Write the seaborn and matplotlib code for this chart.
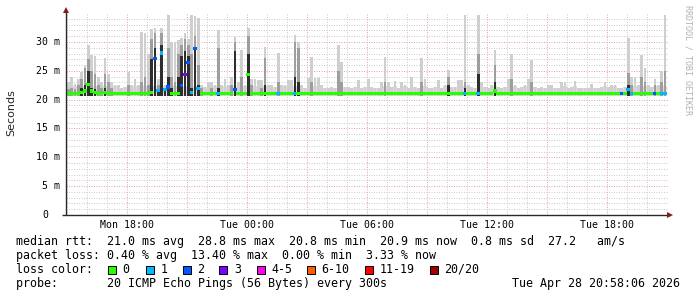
import numpy as np
import pandas as pd
import matplotlib
matplotlib.use("Agg")
import matplotlib.pyplot as plt
import matplotlib.transforms as mtransforms
from matplotlib.patches import Rectangle
import seaborn as sns

# ---------------- data (10-minute bins, Mon 15:00 -> Tue 21:00) ----------------
bin_start_hour = 15.0          # hours since Mon 00:00
bin_hours = 1.0 / 6.0

smoke_max = [
    23.0, 24.0, 22.8, 23.5, 24.8, 26.0, 29.5, 27.7, 27.5, 24.0,
    23.0, 27.2, 24.5, 23.0, 22.5, 22.5, 22.0, 22.2, 24.8, 22.5,
    23.5, 22.5, 31.8, 31.5, 28.0, 32.3, 32.4, 23.5, 32.4, 22.5,
    34.7, 30.0, 30.0, 30.3, 30.7, 31.5, 30.5, 34.7, 34.5, 34.1,
    22.5, 22.2, 23.0, 23.0, 22.5, 32.0, 22.5, 23.5, 22.5, 24.0,
    30.8, 23.0, 28.6, 22.5, 32.4, 23.6, 23.6, 23.4, 23.4, 29.1,
    22.5, 22.5, 22.2, 28.1, 22.5, 22.5, 23.4, 23.4, 31.2, 30.0,
    22.5, 22.0, 23.8, 27.4, 23.8, 23.8, 22.5, 22.0, 22.0, 22.2,
    22.0, 29.5, 26.5, 22.2, 22.2, 22.0, 22.2, 23.4, 22.0, 22.2,
    23.6, 22.2, 22.0, 22.0, 23.0, 27.4, 23.0, 22.2, 23.3, 22.0,
    23.0, 22.5, 22.0, 24.0, 22.2, 22.0, 27.2, 23.5, 22.0, 22.0,
    22.2, 23.4, 22.0, 22.5, 25.1, 22.2, 22.2, 23.4, 23.4, 34.7,
    22.5, 22.2, 22.0, 34.7, 23.0, 22.2, 22.0, 22.5, 28.6, 22.2,
    22.0, 22.2, 23.6, 28.0, 22.5, 22.0, 22.2, 22.5, 23.6, 26.9,
    22.2, 22.0, 22.2, 22.0, 22.5, 22.5, 22.0, 22.0, 23.0, 23.0,
    22.0, 22.2, 23.3, 22.0, 22.0, 22.0, 22.0, 22.7, 22.0, 22.0,
    22.2, 23.0, 22.2, 22.5, 22.5, 22.0, 22.0, 22.2, 30.7, 24.0,
    24.0, 22.5, 27.7, 25.5, 22.5, 22.2, 23.6, 22.5, 25.0, 34.7,
]

smoke_mid = [
    21.8, 22.0, 21.8, 22.5, 23.5, 25.5, 27.0, 25.0, 24.5, 22.5,
    22.0, 24.5, 23.0, 22.0, 0, 0, 0, 0, 22.5, 0,
    0, 0, 23.0, 24.0, 22.5, 30.5, 31.5, 22.5, 31.5, 22.0,
    29.0, 24.0, 23.0, 28.0, 29.5, 30.5, 29.5, 28.0, 31.0, 26.0,
    22.0, 0, 0, 22.0, 0, 29.0, 0, 0, 0, 22.5,
    30.0, 0, 24.0, 0, 31.0, 22.5, 0, 0, 22.0, 27.2,
    0, 0, 0, 23.0, 0, 0, 0, 0, 30.0, 29.0,
    0, 0, 0, 23.0, 0, 0, 0, 0, 0, 0,
    0, 25.0, 23.0, 0, 0, 0, 0, 0, 0, 0,
    0, 0, 0, 0, 0, 23.0, 0, 0, 0, 0,
    0, 0, 0, 0, 0, 0, 23.0, 0, 0, 0,
    0, 0, 0, 0, 24.0, 0, 0, 0, 0, 23.0,
    0, 0, 0, 28.0, 0, 0, 0, 0, 26.0, 0,
    0, 0, 0, 23.6, 0, 0, 0, 0, 0, 23.0,
    0, 0, 0, 0, 0, 0, 0, 0, 0, 0,
    0, 0, 0, 0, 0, 0, 0, 0, 0, 0,
    0, 0, 0, 0, 0, 0, 0, 0, 24.6, 22.5,
    0, 0, 24.0, 23.0, 0, 0, 22.5, 0, 23.0, 25.0,
]

smoke_dark = [
    0, 0, 0, 0, 22.0, 22.5, 25.0, 22.0, 21.8, 0,
    0, 22.0, 0, 0, 0, 0, 0, 0, 0, 0,
    0, 0, 0, 0, 0, 27.0, 29.0, 21.8, 29.5, 21.5,
    24.0, 22.0, 0, 24.0, 27.5, 28.5, 27.5, 22.0, 29.2, 22.5,
    0, 0, 0, 0, 0, 22.0, 0, 0, 0, 0,
    28.5, 0, 0, 0, 28.0, 0, 0, 0, 0, 22.5,
    0, 0, 0, 0, 0, 0, 0, 0, 24.0, 23.0,
    0, 0, 0, 0, 0, 0, 0, 0, 0, 0,
    0, 0, 0, 0, 0, 0, 0, 0, 0, 0,
    0, 0, 0, 0, 0, 0, 0, 0, 0, 0,
    0, 0, 0, 0, 0, 0, 0, 0, 0, 0,
    0, 0, 0, 0, 22.5, 0, 0, 0, 0, 22.0,
    0, 0, 0, 24.5, 0, 0, 0, 0, 23.0, 0,
    0, 0, 0, 0, 0, 0, 0, 0, 0, 0,
    0, 0, 0, 0, 0, 0, 0, 0, 0, 0,
    0, 0, 0, 0, 0, 0, 0, 0, 0, 0,
    0, 0, 0, 0, 0, 0, 0, 0, 22.5, 0,
    0, 0, 0, 0, 0, 0, 0, 0, 0, 0,
]

median_rtt = [
    21.0, 21.0, 21.0, 21.0, 21.3, 21.5, 22.6, 21.5, 21.3, 21.0,
    21.0, 21.2, 21.0, 21.0, 21.0, 21.0, 21.0, 21.0, 21.0, 21.0,
    21.0, 21.0, 21.0, 21.0, 21.0, 21.3, 27.2, 21.6, 28.1, 21.7,
    22.2, 21.0, 21.0, 21.0, 22.4, 24.4, 26.5, 21.3, 28.9, 21.9,
    21.0, 21.0, 21.0, 21.0, 21.0, 21.0, 21.0, 21.0, 21.0, 21.0,
    21.7, 21.0, 21.0, 21.0, 24.3, 21.0, 21.0, 21.0, 21.0, 21.0,
    21.0, 21.0, 21.0, 21.0, 21.0, 21.0, 21.0, 21.0, 21.0, 21.0,
    21.0, 21.0, 21.0, 21.0, 21.0, 21.0, 21.0, 21.0, 21.0, 21.0,
    21.0, 21.0, 21.0, 21.0, 21.0, 21.0, 21.0, 21.0, 21.0, 21.0,
    21.0, 21.0, 21.0, 21.0, 21.0, 21.0, 21.0, 21.0, 21.0, 21.0,
    21.0, 21.0, 21.0, 21.0, 21.0, 21.0, 21.0, 21.0, 21.0, 21.0,
    21.0, 21.0, 21.0, 21.0, 21.0, 21.0, 21.0, 21.0, 21.0, 21.0,
    21.0, 21.0, 21.0, 21.0, 21.0, 21.0, 21.0, 21.0, 21.5, 21.0,
    21.0, 21.0, 21.0, 21.0, 21.0, 21.0, 21.0, 21.0, 21.0, 21.0,
    21.0, 21.0, 21.0, 21.0, 21.0, 21.0, 21.0, 21.0, 21.0, 21.0,
    21.0, 21.0, 21.0, 21.0, 21.0, 21.0, 21.0, 21.0, 21.0, 21.0,
    21.0, 21.0, 21.0, 21.0, 21.0, 21.0, 21.0, 21.0, 21.8, 21.0,
    21.0, 21.0, 21.0, 21.0, 21.0, 21.0, 21.0, 21.0, 21.0, 21.0,
]

loss_count = [
    0, 0, 0, 0, 0, 0, 0, 0, 0, 0,
    0, 0, 0, 0, 0, 0, 0, 0, 0, 0,
    0, 0, 0, 0, 0, 0, 2, 1, 1, 1,
    2, 0, 0, 0, 2, 3, 2, 1, 2, 1,
    0, 0, 0, 0, 0, 1, 0, 0, 0, 0,
    2, 0, 0, 0, 0, 0, 0, 0, 0, 0,
    0, 0, 0, 1, 0, 0, 0, 0, 1, 0,
    0, 0, 0, 0, 0, 0, 0, 0, 0, 0,
    0, 0, 0, 0, 0, 0, 0, 0, 0, 0,
    0, 0, 0, 0, 0, 0, 0, 0, 0, 0,
    0, 0, 0, 0, 0, 0, 0, 0, 0, 0,
    0, 0, 0, 0, 0, 0, 0, 0, 0, 1,
    0, 0, 0, 1, 0, 0, 0, 0, 0, 0,
    0, 0, 0, 0, 0, 0, 0, 0, 0, 0,
    0, 0, 0, 0, 0, 0, 0, 0, 0, 0,
    0, 0, 0, 0, 0, 0, 0, 0, 0, 0,
    0, 0, 0, 0, 0, 0, 2, 0, 1, 1,
    0, 0, 0, 0, 0, 0, 2, 0, 1, 1,
]

loss_labels = ["0", "1", "2", "3", "4-5", "6-10", "11-19", "20/20"]
loss_colors = ["#26ff00", "#00b8ff", "#0059ff", "#7e00ff",
               "#ff00ea", "#ff5e00", "#ff0000", "#a10000"]

x_tick_hours = [18, 24, 30, 36, 42]
x_tick_labels = ["Mon 18:00", "Tue 00:00", "Tue 06:00", "Tue 12:00", "Tue 18:00"]
y_tick_values = [0, 5, 10, 15, 20, 25, 30]
y_tick_labels = ["0", "5 m", "10 m", "15 m", "20 m", "25 m", "30 m"]

legend_lines = [
    "median rtt:  21.0 ms avg  28.8 ms max  20.8 ms min  20.9 ms now  0.8 ms sd  27.2   am/s",
    "packet loss: 0.40 % avg  13.40 % max  0.00 % min  3.33 % now",
    "loss color:",
    "probe:       20 ICMP Echo Pings (56 Bytes) every 300s",
]
timestamp = "Tue Apr 28 20:58:06 2026"

# ---------------- figure ----------------
sns.set_style("white")
plt.rcParams["font.family"] = ["DejaVu Sans Mono", "DejaVu Sans"]

W, H = 697, 297
fig = plt.figure(figsize=(W / 100, H / 100), dpi=100)
fig.patch.set_facecolor("white")

X0, X1, YB = 66, 668, 215
PX_PER_M = 5.767
YTOP_VAL = 34.8
YT = YB - YTOP_VAL * PX_PER_M
ax = fig.add_axes([X0 / W, 1 - YB / H, (X1 - X0) / W, (YB - YT) / H])
x_start = 14.97
ax.set_xlim(x_start, x_start + (X1 - X0) / 20.0)
ax.set_ylim(0, YTOP_VAL)
ax.set_facecolor("white")

n = len(smoke_max)
edges = bin_start_hour + np.arange(n + 1) * bin_hours
centers = bin_start_hour + (np.arange(n) + 0.5) * bin_hours
base = 20.7
bg_cap = 22.3

# continuous light background smoke (lower part of each bin)
bg = np.minimum(np.array(smoke_max, dtype=float), bg_cap)
ax.fill_between(edges, base, np.append(bg, bg[-1]), step="post",
                color="#dcdcdc", lw=0, zorder=2)

# spikes: narrower columns per bin
spike_w = 0.13
def spikes(vals, color, z):
    v = np.array(vals, dtype=float)
    h = np.where(v > base, v - base, 0.0)
    ax.bar(centers, h, bottom=base, width=spike_w, color=color, lw=0, zorder=z)

spikes(smoke_max, "#cfcfcf", 2.05)
spikes(smoke_mid, "#9e9e9e", 2.1)
spikes(smoke_dark, "#2e2e2e", 2.2)

# median, coloured by loss
def loss_cat(c):
    if c <= 3:
        return loss_labels[c]
    if c <= 5:
        return "4-5"
    if c <= 10:
        return "6-10"
    if c <= 19:
        return "11-19"
    return "20/20"

df = pd.DataFrame({"t": centers, "median": median_rtt,
                   "loss": [loss_cat(c) for c in loss_count]})
pal = dict(zip(loss_labels, loss_colors))
rect_marker = [(-0.5, -0.45), (0.5, -0.45), (0.5, 0.45), (-0.5, 0.45), (-0.5, -0.45)]
sns.scatterplot(data=df, x="t", y="median", hue="loss", palette=pal,
                marker=rect_marker, s=6.6, linewidth=0, legend=False,
                ax=ax, zorder=3)

# grid
ax.set_axisbelow(True)
ax.set_xticks(np.arange(18, 43, 3))
ax.set_xticks(np.arange(15, 45, 1), minor=True)
ax.set_yticks(np.arange(0, 35, 5))
ax.set_yticks(np.arange(0, 35, 1), minor=True)
ax.grid(which="minor", color="#cdcdcd", linestyle=(0, (1, 1.5)), linewidth=0.72)
ax.grid(which="major", color="#e8a3a3", linestyle=(0, (1, 1.5)), linewidth=0.72)
ax.set_xticklabels([])
ax.set_yticklabels([])
ax.tick_params(axis="x", which="both", length=0)
ax.tick_params(axis="y", which="major", length=3, width=0.7, color="#777777", direction="out")
ax.tick_params(axis="y", which="minor", length=0)
ax.set_xlabel("")
ax.set_ylabel("")

for s in ["top", "right", "left", "bottom"]:
    ax.spines[s].set_visible(False)

axis_col = "#2a2a2a"
arrow_col = "#7f1f1f"
ax.plot([x_start, x_start], [0, YTOP_VAL + 0.6], color=axis_col, lw=1.0,
        clip_on=False, zorder=5, solid_capstyle="butt")
ax.plot([x_start - 0.2, x_start + (670 - X0) / 20.0], [0, 0], color=axis_col, lw=1.0,
        clip_on=False, zorder=5, solid_capstyle="butt")
ax.plot([x_start], [YTOP_VAL + 0.7], marker="^", ms=4.2, color=arrow_col,
        clip_on=False, zorder=6, mew=0)
ax.plot([x_start + (670 - X0) / 20.0], [0], marker=">", ms=4.2, color=arrow_col,
        clip_on=False, zorder=6, mew=0)

# tick labels
tr_y = mtransforms.blended_transform_factory(fig.transFigure, ax.transData)
for v, lab in zip(y_tick_values, y_tick_labels):
    xr = 60 if v > 0 else 48
    ax.text(xr / W, v, lab, transform=tr_y, ha="right", va="center",
            fontsize=7.1, family="DejaVu Sans Mono", color="black")

tr_x = mtransforms.blended_transform_factory(ax.transData, fig.transFigure)
for h, lab in zip(x_tick_hours, x_tick_labels):
    ax.text(h, 1 - 224.5 / H, lab, transform=tr_x, ha="center", va="center",
            fontsize=7.1, family="DejaVu Sans Mono", color="black")

fig.text(11 / W, 1 - 113 / H, "Seconds", rotation=90, ha="center", va="center",
         fontsize=8, family="DejaVu Sans")
fig.text(688 / W, 1 - 60 / H, "RRDTOOL / TOBI OETIKER", rotation=270,
         ha="center", va="center", fontsize=6, color="#b0b0b0",
         family="DejaVu Sans Mono")

# legend block
mono = dict(fontsize=8.35, family="DejaVu Sans Mono", color="black")
baselines = [245, 259, 273, 287]
for line, yb in zip(legend_lines, baselines):
    fig.text(16 / W, 1 - yb / H, line, ha="left", va="baseline", **mono)
fig.text(680 / W, 1 - 287 / H, timestamp, ha="right", va="baseline", **mono)

sq_x = [108, 145.7, 182.7, 219.3, 256.7, 306.7, 365, 430]
for xs, lab, col in zip(sq_x, loss_labels, loss_colors):
    fig.patches.append(Rectangle((xs / W, 1 - 273.5 / H), 8 / W, 8 / H,
                                 transform=fig.transFigure, facecolor=col,
                                 edgecolor="black", lw=0.7))
    fig.text((xs + 14.5) / W, 1 - 273 / H, lab, ha="left", va="baseline", **mono)

fig.savefig("out.png", dpi=100, facecolor="white")
